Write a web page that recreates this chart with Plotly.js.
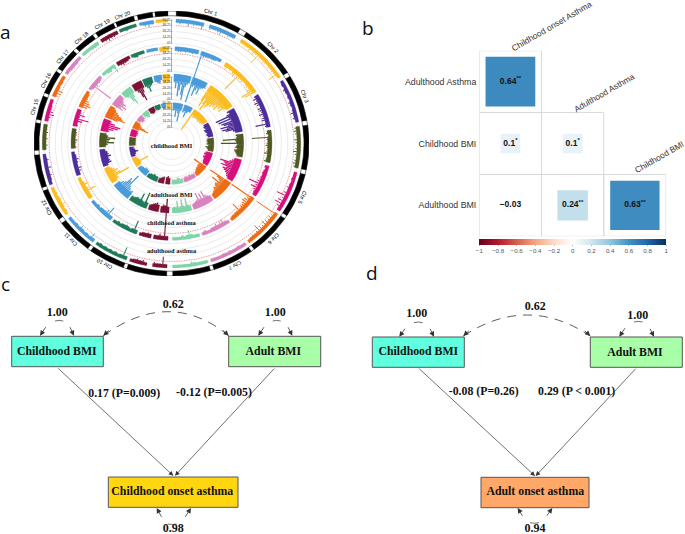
<!DOCTYPE html>
<html><head><meta charset="utf-8">
<script src="https://cdn.plot.ly/plotly-3.0.1.min.js"></script>
<style>html,body{margin:0;padding:0;background:#fff}</style></head>
<body><div id="chart" style="width:685px;height:534px"></div>
<script>
// ---------- Panel a data ----------
const chromNames = ["Chr 1","Chr 2","Chr 3","Chr 4","Chr 5","Chr 6","Chr 7","Chr 8","Chr 9","Chr 10","Chr 11","Chr 12","Chr 13","Chr 14","Chr 15","Chr 16","Chr 17","Chr 18","Chr 19","Chr 20","Chr 21","Chr 22"];
const chromStart = [2,33,59.5,82,103.5,124.5,144.5,163.5,182,200.5,217.5,235,250.5,267,280.5,292.5,304.5,316,326.5,336,345.5,353];
const chromEnd   = [30,57.6,80,101.5,123,143,162,179.5,199,216,233,249,265,279,291,303,314.5,325,335,344,352,358.5];
const chromColors = ["#4A9BD9","#FBBC22","#4B2E9A","#4F5A23","#D6107A","#EE6C14","#D882BE","#7FD4A8","#7A1436","#1F7A5A","#4A9BD9","#FBBC22","#4B2E9A","#4F5A23","#D6107A","#EE6C14","#D882BE","#7FD4A8","#7A1436","#1F7A5A","#4A9BD9","#FBBC22"];
const ringNames = ["childhood BMI","adulthood BMI","childhood asthma","adulthood asthma"];
const ringLabelY = [-3,-52,-80,-108];
const ring1 = [
[4,5,4,4,6,4,5,4,4,7,0,0,5,4,4,5,6,4,4,5,4,4],[4,4,5,4,6,4,7,5,13,5,4,6,5,4,5,4,5,4,11,3],[3,4,3,5,4,3,4,3,5,4,3,4,6,4,5,3],[5,6,5,4,6,5,4,5,7,5,4,5,6,5],
[3,3,4,3,4,5,4,6,12,5,8,10,6,4],[24,5,6,5,6,8,5,6,10,5,4,5,4,3],[3,3,4,3,3,4,3,4,3,3,3,3],[3,3,3,3,4,5,3,3,3,3,3,3],
[4,11,4,4,5,0,0,3,5,4,5,4,3],[4,12,4,3,4,3,4,3,4,3,4,3],[4,8,3,4,3,4,6,3,4,3,3,3],[3,4,3,4,6,4,5,4,3,4,3,3],
[3,4,5,4,6,4,5,3],[4,5,4,5,4,5,4,4],[4,5,8,6,4,4,3,3],[5,7,8,4,3,4,3,3],[3,3,4,5,4,5,3,3],[3,3,3,4,5,4],[4,5,6,5,5,4],[3,3,4,3,3,3],[3,5,6,4],[3,3,3,3]];
const ring2 = [
[4,5,5,4,5,4,4,5,4,4,0,28,6,5,5,4,5,4,3,3],[5,6,4,5,4,6,8,5,22,6,5,6,5,4,5,6,5,8,15,12],[5,7,5,8,6,4,7,6,5,8,5,6,7,4,14,5],[4,5,3,19,5,4,5,6,5,4,5,7,4,4,5,6],
[4,3,4,5,4,5,5,6,14,6,10,6,5,4],[26,6,8,9,7,6,6,5,12,5,5,4,4,3],[3,4,7,6,4,6,4,4,3,3,4,3],[3,3,3,4,9,4,3,4,3,3,3,3],
[4,28,4,6,4,4,0,4,5,4,4,3],[4,13,4,3,4,5,4,4,3,4,3,3],[4,4,12,7,5,4,4,3,4,3,3,3],[4,4,5,12,6,4,8,4,3,3],
[4,6,7,4,5,6,4,3],[5,4,5,6,4,5,5,4],[5,4,8,14,5,9,5,4],[8,11,9,7,5,4,4,3],[3,4,23,6,4,5,4,3],[3,3,4,5,3,9],[4,5,6,5,4,3],[3,4,5,3,3,3],[3,3,3,3],[5,5,5,5]];
const ring3 = [
[8,14,9,22,16,10,20,25,12,9,7,0,26,10,8,18,12,9,15,8,7,6],[18,24,14,20,26,17,22,19,15,18,14,16,12,17,11,13,10,14,9,7],[8,6,10,22,9,20,8,18,16,12,20,14,19,16,9,7],[7,6,7,20,8,7,22,6,7,8,6,9,8,7,6,5],
[7,9,11,20,16,14,18,12,15,13,11,9,8,6],[24,15,12,10,18,11,12,11,9,10,8,7,6,5],[6,7,9,14,7,13,8,15,8,7,6,5],[5,6,13,5,6,13,6,5,12,5,6,5],
[6,14,7,8,6,0,7,9,8,7,6,5],[6,16,5,6,13,6,7,6,5,5],[9,8,10,12,24,15,18,12,10,7],[6,9,8,22,13,9,12,9,7,5],
[5,9,8,7,10,8,7,5],[6,8,14,9,10,15,8,6],[8,12,16,18,12,8],[13,20,17,15,12,10,7,5],[12,9,14,10,12,8,6,5],[6,8,14,18,11,7],[7,10,16,20,12,8],[8,10,14,9,8,6],[6,8,9,5],[9,9,9,9]];
const ring4 = [
[8,7,14,8,10,18,7,0,8,6,12,7,5,5],[24,6,8,7,6,7,6,8,6,7,6,5],[5,6,5,7,6,5,6,5],[6,7,6,7,5,8,6,5],
[7,8,7,8,7,6,6,5],[14,8,8,7,7,6,5,4],[4,4,5,4,5,4],[4,4,6,4,4,4],
[6,8,7,0,7,6,5,4],[5,5,6,5,5,4],[6,6,7,5,5,4],[5,6,15,6,5,4],
[4,5,8,5,4],[6,6,6,6,6],[6,7,7,6],[7,16,12,8,6,5],[4,6,6,5],[4,6,7,5],[5,6,6,5],[4,5,5,4],[4,5,4],[6,6,6]];
const ringData = [ring1,ring2,ring3,ring4];
const ringAxisLabels = ["50.25","38.25","26.25","14.25","05"];

// ---------- Panel b data ----------
const corrColumns = ["Childhood onset Asthma","Adulthood Asthma","Childhood BMI"];
const corrRows = ["Adulthood BMI","Childhood BMI","Adulthood Asthma"];
const corrX = ["Childhood onset Asthma","Childhood onset Asthma","Adulthood Asthma","Childhood onset Asthma","Adulthood Asthma","Childhood BMI"];
const corrY = ["Adulthood Asthma","Childhood BMI","Childhood BMI","Adulthood BMI","Adulthood BMI","Adulthood BMI"];
const corrR = [0.64,0.1,0.1,-0.03,0.24,0.63];
const corrText = ["0.64<sup>**</sup>","0.1<sup>*</sup>","0.1<sup>*</sup>","−0.03","0.24<sup>**</sup>","0.63<sup>**</sup>"];
const barTicks = [-1,-0.8,-0.6,-0.4,-0.2,0,0.2,0.4,0.6,0.8,1];
const barTickText = ["−1","−0.8","−0.6","−0.4","−0.2","0","0.2","0.4","0.6","0.8","1"];

// ---------- Panels c, d data ----------
const nodeNames = ["Childhood BMI","Adult BMI","Childhood onset asthma","Childhood BMI","Adult BMI","Adult onset asthma"];
const pathLabels = ["0.17 (P=0.009)","-0.12 (P=0.005)","-0.08 (P=0.26)","0.29 (P < 0.001)"];
const varLabels = ["1.00","1.00","0.62","0.98","1.00","1.00","0.62","0.94"];

// ---------- Geometry / styling ----------
const ringBase = [124.5,96.8,69.5,40.8], ringBand=[3.5,4,7,6], ringLine=[1,1.1,1.3,1.3];
const ringRed = [118,90,64,36];
const ringTicks = [[123,118,112,106,100],[95,90,84,78,72],[66,61,55.7,49.7,44],[40,34,28,22,16]];
const OUT=132.5, IN=127.8;
const rad=d=>d*Math.PI/180, px=(r,d)=>r*Math.sin(rad(d)), py=(r,d)=>r*Math.cos(rad(d));
const traces=[], annotations=[], shapes=[];
function arc(r,a0,a1){const xs=[],ys=[];for(let a=a0;a<=a1+1e-6;a+=1){xs.push(px(r,a));ys.push(py(r,a));}xs.push(px(r,a1));ys.push(py(r,a1));return [xs,ys];}

// grid + red threshold circles
ringTicks.forEach((tk,k)=>{
  const xs=[],ys=[];
  tk.forEach(r=>{const [a,b]=arc(r,2,358);xs.push(...a,null);ys.push(...b,null);});
  traces.push({x:xs,y:ys,mode:'lines',line:{color:'#DEDEDE',width:0.6}});
});
ringRed.forEach(r=>{const [a,b]=arc(r,2,358);traces.push({x:a,y:b,mode:'lines',line:{color:'#F26A6A',width:0.7,dash:'1px,1.5px'}});});

// outer chromosome ring
chromNames.forEach((n,i)=>{
  const [ax,ay]=arc(OUT,chromStart[i],chromEnd[i]);
  const [bx,by]=arc(IN,chromStart[i],chromEnd[i]);
  traces.push({x:[...ax,...bx.reverse(),ax[0]],y:[...ay,...by.reverse(),ay[0]],mode:'lines',fill:'toself',fillcolor:'#000',line:{color:'#000',width:0.3}});
  const mid=(chromStart[i]+chromEnd[i])/2;
  annotations.push({x:px(OUT*1.032,mid),y:py(OUT*1.032,mid),xref:'x',yref:'y',text:n,showarrow:false,textangle:mid,xanchor:'center',yanchor:'middle',font:{family:'Liberation Sans',size:5.5,color:'#000'}});
});
[OUT,IN].forEach(r=>{const [a,b]=arc(r,0,360);traces.push({x:a,y:b,mode:'lines',line:{color:'#000',width:0.5}});});

// Manhattan bars, drawn from ring arrays
ringData.forEach((ring,k)=>{
  const base=ringBase[k], B=ringBand[k];
  ring.forEach((vals,c)=>{
    const s=chromStart[c], w=(chromEnd[c]-s)/vals.length;
    const fx=[],fy=[],lx=[],ly=[];
    vals.forEach((v,i)=>{
      if(!v) return;
      const a0=s+i*w,a1=a0+w,m=Math.min(v,B),am=(a0+a1)/2;
      fx.push(px(base,a0),px(base,a1),px(base-m,a1),px(base-m,a0),px(base,a0),null);
      fy.push(py(base,a0),py(base,a1),py(base-m,a1),py(base-m,a0),py(base,a0),null);
      if(v>B){lx.push(px(base-B,am),px(base-v,am),null);ly.push(py(base-B,am),py(base-v,am),null);}
    });
    traces.push({x:fx,y:fy,mode:'lines',fill:'toself',fillcolor:chromColors[c],line:{color:chromColors[c],width:0.3}});
    if(lx.length)traces.push({x:lx,y:ly,mode:'lines',line:{color:chromColors[c],width:ringLine[k]}});
  });
});
// radial axes at the top
ringTicks.forEach(tk=>{
  const xs=[0,0,null],ys=[tk[0]+1,tk[tk.length-1],null];
  tk.forEach(r=>{xs.push(0,0.9,null);ys.push(r,r,null);});
  traces.push({x:xs,y:ys,mode:'lines',line:{color:'#333',width:0.4}});
  traces.push({x:tk.map(()=>-1),y:tk,mode:'text',text:ringAxisLabels,textposition:'middle left',textfont:{family:'Liberation Sans',size:3.2,color:'#333'}});
});
// ring titles
traces.push({x:ringNames.map(()=>0),y:ringLabelY,mode:'text',text:ringNames,textposition:'middle center',textfont:{family:'Liberation Serif',size:6.4,weight:700,color:'#111'}});

// ---------- Panel b ----------
const cellPx=62.2;
traces.push({xaxis:'x2',yaxis:'y2',x:corrX,y:corrY,mode:'markers+text',text:corrText,textposition:'middle center',
  textfont:{family:'Liberation Sans',size:8.5,weight:700,color:'#111'},
  marker:{symbol:'square',opacity:1,size:corrR.map(r=>Math.sqrt(Math.abs(r))*cellPx),color:corrR,cmin:-1,cmax:1,line:{width:0},
    colorscale:[[0,'#67001F'],[0.1,'#B2182B'],[0.2,'#D6604D'],[0.3,'#F4A582'],[0.4,'#FDDBC7'],[0.5,'#FFFFFF'],[0.6,'#D1E5F0'],[0.7,'#92C5DE'],[0.8,'#4393C3'],[0.9,'#2166AC'],[1,'#053061']],
    colorbar:{orientation:'h',x:479.3/685,xanchor:'left',xref:'paper',y:(534-239)/534,yanchor:'top',yref:'paper',len:186.7,lenmode:'pixels',thickness:5.8,thicknessmode:'pixels',xpad:0,ypad:0,
      tickvals:barTicks,ticktext:barTickText,ticks:'outside',ticklen:1,tickwidth:0.5,tickcolor:'#666',outlinewidth:0,
      tickfont:{family:'Liberation Sans',size:6.2,color:'#555'}}}});
[[0,2],[0,1],[1,1],[0,0],[1,0],[2,0]].forEach(([c,r])=>shapes.push({type:'rect',xref:'x2',yref:'y2',x0:c-.5,x1:c+.5,y0:r-.5,y1:r+.5,line:{color:'#DADADA',width:1},layer:'below'}));
const colLabelPos=[[551.7,25.7],[603.7,92.7],[659.3,157.3]];
corrColumns.forEach((t,i)=>annotations.push({x:colLabelPos[i][0],y:colLabelPos[i][1],xref:'x3',yref:'y3',text:t,showarrow:false,textangle:-30,xanchor:'center',yanchor:'middle',font:{family:'Liberation Sans',size:8.4,color:'#333'}}));

// ---------- Panels c, d ----------
const boxes=[[11.7,336.3,103.3,366.7,'#5FFFE0'],[228.7,336.3,320.7,366.7,'#A8FFA8'],[108.3,477,238,507.3,'#FFD60F'],
             [372.3,337,464.3,367.3,'#5FFFE0'],[590.3,337,682.3,367.3,'#A8FFA8'],[481,477.3,589,507.7,'#FFA868']];
boxes.forEach(b=>shapes.push({type:'rect',xref:'x3',yref:'y3',x0:b[0],y0:b[1],x1:b[2],y1:b[3],fillcolor:b[4],line:{color:'#555',width:1},layer:'below'}));
const nodePos=[[56.8,351.7],[273.3,351.7],[172.3,491.7],[418.3,352.3],[635,352.7],[535.3,492.3]];
traces.push({xaxis:'x3',yaxis:'y3',x:nodePos.map(p=>p[0]),y:nodePos.map(p=>p[1]),mode:'text',text:nodeNames,textposition:'middle center',textfont:{family:'Liberation Serif',size:11.8,weight:700,color:'#111'}});
const pathPos=[[124.2,394],[214,393.3],[483.7,391.7],[576.7,392.3]];
traces.push({xaxis:'x3',yaxis:'y3',x:pathPos.map(p=>p[0]),y:pathPos.map(p=>p[1]),mode:'text',text:pathLabels,textposition:'middle center',textfont:{family:'Liberation Serif',size:11.8,weight:700,color:'#111'}});
const varPos=[[57.3,312.7],[275.3,312.7],[173.3,305],[173.3,528.5],[416.7,314.3],[637.7,315.7],[535.3,306.7],[535,528.5]];
traces.push({xaxis:'x3',yaxis:'y3',x:varPos.map(p=>p[0]),y:varPos.map(p=>p[1]),mode:'text',text:varLabels,textposition:'middle center',textfont:{family:'Liberation Serif',size:12,weight:700,color:'#111'}});
// arrows: [fromX,fromY,toX,toY]
const arrows=[[56.7,367,173.3,475.7],[275.7,367,175,475.7],[417.7,367.3,535,476],[637,367.3,535.7,476]];
const shortArrows=[[46.7,325.7,40,335.7],[69.3,325.7,74,335.7],[265,325.7,258.3,335.7],[287.3,325.7,292.3,335.7],[162.3,518.3,156.7,508],[184.3,518.3,191,508],
 [406,327.3,399.3,336.7],[429.3,327.3,434,336.7],[626,326.7,619.3,336.7],[649.3,327.3,654,336.7],[523.3,517.3,517.7,508],[545.7,517.3,552.3,508]];
const arrowAnn=(a,w)=>({x:a[2],y:a[3],ax:a[0],ay:a[1],xref:'x3',yref:'y3',axref:'x3',ayref:'y3',text:'',showarrow:true,arrowhead:2,arrowsize:1.3,arrowwidth:w,arrowcolor:'#333'});
arrows.forEach(a=>annotations.push(arrowAnn(a,0.7)));
shortArrows.forEach(a=>annotations.push(arrowAnn(a,0.8)));
// covariance arcs (dashed) with heads at both ends
[[103.3,335.7,170,287.7,228.7,335.7],[463.3,336,527,294,590.3,336]].forEach(c=>{
  shapes.push({type:'path',xref:'x3',yref:'y3',path:`M${c[0]},${c[1]} Q${c[2]},${c[3]} ${c[4]},${c[5]}`,line:{color:'#333',width:0.8,dash:'9px,7px'}});
  annotations.push(arrowAnn([c[0]+7,c[1]-6.5,c[0],c[1]],0.8));
  annotations.push(arrowAnn([c[4]-7,c[5]-6.5,c[4],c[5]],0.8));
});
// tiny variance arcs
[[55,321,59,319.8,63.3,321],[272.7,321,276.7,319.8,280.7,321],[167.7,524,172,525,176.7,524],[414,322.6,418,321.4,422.7,322.6],[634,322,638,320.8,642.7,322],[530,522.7,534.5,523.8,539,522.7]].forEach(c=>{
  shapes.push({type:'path',xref:'x3',yref:'y3',path:`M${c[0]},${c[1]} Q${c[2]},${c[3]} ${c[4]},${c[5]}`,line:{color:'#333',width:0.7}});
});
// panel letters
[['a',5.5,32],['b',368,28],['c',5.5,284],['d',372,273]].forEach(l=>annotations.push({x:l[1],y:l[2],xref:'x3',yref:'y3',text:l[0],showarrow:false,xanchor:'center',yanchor:'middle',font:{family:'Open Sans',size:19,color:'#111'}}));

traces.forEach(t=>{t.showlegend=false;t.hoverinfo='skip';});
const hidden={visible:false,fixedrange:true};
const layout={width:685,height:534,margin:{l:0,r:0,t:0,b:0,pad:0},paper_bgcolor:'#fff',plot_bgcolor:'rgba(0,0,0,0)',showlegend:false,hovermode:false,
  xaxis:{...hidden,domain:[34/685,309/685],range:[-OUT,OUT]},
  yaxis:{...hidden,domain:[(534-276)/534,(534-11)/534],range:[-OUT,OUT]},
  xaxis2:{type:'category',categoryorder:'array',categoryarray:corrColumns,domain:[479.3/685,666/685],range:[-.5,2.5],showgrid:false,zeroline:false,showticklabels:false,ticks:'',showline:false,anchor:'y2',fixedrange:true},
  yaxis2:{type:'category',categoryorder:'array',categoryarray:corrRows,domain:[(534-236.3)/534,(534-50.7)/534],range:[-.5,2.5],showgrid:false,zeroline:false,ticks:'',showline:false,anchor:'x2',ticklabelstandoff:2,tickfont:{family:'Liberation Sans',size:8.8,color:'#333'},fixedrange:true},
  xaxis3:{...hidden,domain:[0,1],range:[0,685],anchor:'y3'},
  yaxis3:{...hidden,domain:[0,1],range:[534,0],anchor:'x3'},
  shapes,annotations};
Plotly.newPlot('chart',traces,layout,{displayModeBar:false,staticPlot:true});
</script></body></html>
